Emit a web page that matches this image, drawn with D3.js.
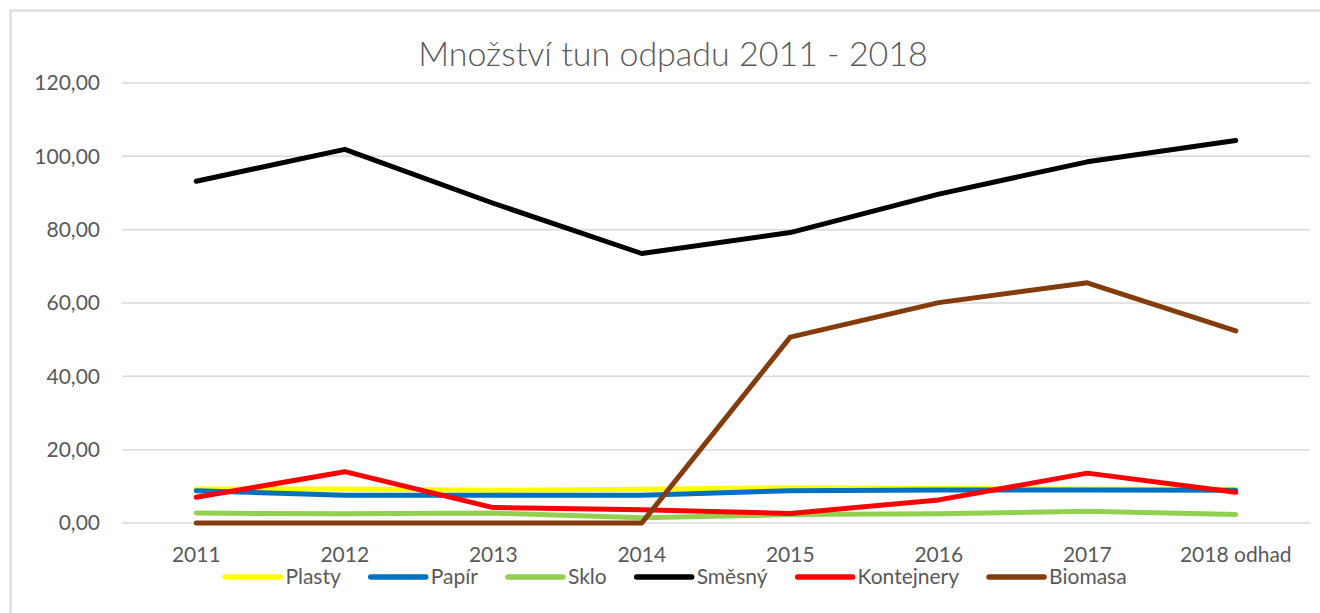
<!DOCTYPE html>
<html lang="cs">
<head>
<meta charset="utf-8">
<title>Množství tun odpadu 2011 - 2018</title>
<script src="https://d3js.org/d3.v7.min.js"></script>
<style>
  body { margin: 0; background: #fff; }
  svg { font-family: Lato, "Open Sans", sans-serif; }
</style>
</head>
<body>
<script>
  // data
  var years = ["2011", "2012", "2013", "2014", "2015", "2016", "2017", "2018 odhad"];
  var seriesNames = ["Plasty", "Papír", "Sklo", "Směsný", "Kontejnery", "Biomasa"];
  var seriesColors = ["#FFFF00", "#0070C0", "#92D050", "#000000", "#FF0000", "#843C0C"];
  var plasty     = [9.3, 9.3, 8.9, 9.2, 9.6, 9.4, 9.3, 9.2];
  var papir      = [8.8, 7.6, 7.6, 7.6, 8.8, 9.0, 9.0, 8.9];
  var sklo       = [2.7, 2.5, 2.7, 1.4, 2.3, 2.5, 3.2, 2.3];
  var smesny     = [93.2, 101.9, 87.2, 73.5, 79.2, 89.7, 98.5, 104.3];
  var kontejnery = [7.0, 14.0, 4.2, 3.6, 2.6, 6.3, 13.6, 8.4];
  var biomasa    = [0, 0, 0, 0, 50.7, 60.1, 65.5, 52.4];
  var yTicks = [0, 20, 40, 60, 80, 100, 120];

  var allValues = [plasty, papir, sklo, smesny, kontejnery, biomasa];

  var width = 1320, height = 613;
  var plotLeft = 122, plotRight = 1310, plotTop = 83, plotBottom = 523;
  var textColor = "#595959";

  var svg = d3.select("body").append("svg")
              .attr("width", width)
              .attr("height", height);

  // chart frame
  svg.append("rect")
     .attr("x", 10.5).attr("y", 10.5)
     .attr("width", width + 20).attr("height", height + 20)
     .attr("fill", "none")
     .attr("stroke", "#d9d9d9")
     .attr("stroke-width", 2);

  var x = d3.scaleBand()
            .domain(years)
            .range([plotLeft, plotRight])
            .padding(0);

  var y = d3.scaleLinear()
            .domain([0, 120])
            .range([plotBottom, plotTop]);

  //gridlines
  svg.append("g")
     .selectAll("line")
     .data(yTicks)
     .join("line")
       .attr("x1", plotLeft).attr("x2", plotRight)
       .attr("y1", d => y(d)).attr("y2", d => y(d))
       .attr("stroke", "#d9d9d9")
       .attr("stroke-width", 1.5);

  //y axis labels
  var fmt = d => d3.format(".2f")(d).replace(".", ",");
  var yAxis = svg.append("g")
     .attr("transform", "translate(100,0)")
     .call(d3.axisLeft(y).tickValues(yTicks).tickFormat(fmt).tickSize(0).tickPadding(0));
  yAxis.select(".domain").remove();
  yAxis.selectAll("text")
       .attr("fill", textColor)
       .attr("font-size", 21)
       .attr("font-family", "Lato, sans-serif");

  //x axis labels
  var xAxis = svg.append("g")
     .attr("transform", "translate(0," + plotBottom + ")")
     .call(d3.axisBottom(x).tickSize(0).tickPadding(24));
  xAxis.select(".domain").remove();
  xAxis.selectAll("text")
       .attr("fill", textColor)
       .attr("font-size", 21)
       .attr("font-family", "Lato, sans-serif");

  //lines
  var line = d3.line()
               .x((d, i) => x(years[i]) + x.bandwidth() / 2)
               .y(d => y(d));

  svg.append("g")
     .selectAll("path")
     .data(allValues)
     .join("path")
       .attr("d", d => line(d))
       .attr("fill", "none")
       .attr("stroke", (d, i) => seriesColors[i])
       .attr("stroke-width", 5)
       .attr("stroke-linejoin", "round")
       .attr("stroke-linecap", "round");

  //title
  svg.append("text")
     .attr("x", 673)
     .attr("y", 66)
     .attr("text-anchor", "middle")
     .attr("fill", textColor)
     .attr("font-size", 34)
     .attr("font-weight", 300)
     .text("Množství tun odpadu 2011 - 2018");

  //legend, laid out from measured text widths and centred
  var legend = svg.append("g");
  var sampleLen = 55, sampleGap = 5, itemGap = 30;
  var items = legend.selectAll("g")
     .data(seriesNames)
     .join("g");
  items.append("line")
       .attr("x1", 0).attr("x2", sampleLen)
       .attr("y1", 0).attr("y2", 0)
       .attr("stroke", (d, i) => seriesColors[i])
       .attr("stroke-width", 5.5)
       .attr("stroke-linecap", "round");
  items.append("text")
       .attr("x", sampleLen + sampleGap)
       .attr("y", 0)
       .attr("dy", "0.35em")
       .attr("fill", textColor)
       .attr("font-size", 21)
       .text(d => d);
  var offs = 0;
  items.each(function() {
    var w = sampleLen + sampleGap + d3.select(this).select("text").node().getComputedTextLength();
    d3.select(this).attr("transform", "translate(" + offs + ",0)");
    offs += w + itemGap;
  });
  var legendWidth = offs - itemGap;
  legend.attr("transform", "translate(" + (676 - legendWidth / 2) + ",577)");
</script>
</body>
</html>
